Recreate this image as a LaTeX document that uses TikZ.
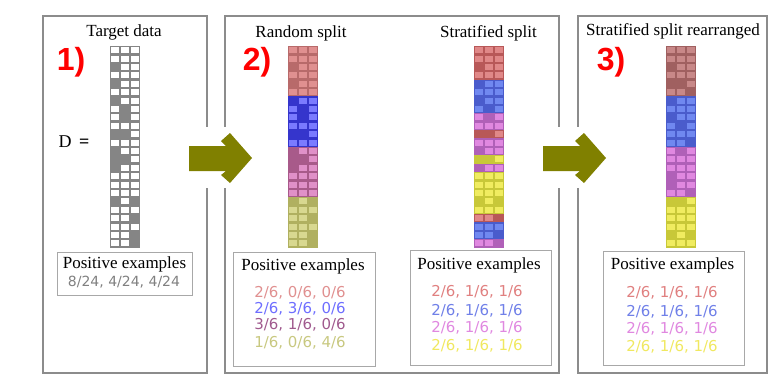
\documentclass[tikz,border=0pt]{standalone}
\usepackage{fontspec}
\setmainfont{Liberation Serif}
\newfontfamily\numfont{DejaVu Sans}
\newfontfamily\tagfont{Liberation Sans}
\usetikzlibrary{positioning}

\definecolor{frame}{HTML}{8C8C8C}
\definecolor{boxline}{HTML}{A8A8A8}
\definecolor{arrowol}{HTML}{808000}
\definecolor{matG}{HTML}{858585}
% random split
\definecolor{rnRd}{HTML}{B86A6A}\definecolor{rnRl}{HTML}{E09090}
\definecolor{rnBd}{HTML}{3535CC}\definecolor{rnBl}{HTML}{7B7BFF}
\definecolor{rnPd}{HTML}{A85A8A}\definecolor{rnPl}{HTML}{E090C8}
\definecolor{rnYd}{HTML}{B0B060}\definecolor{rnYl}{HTML}{D8D890}
% stratified split
\definecolor{stRd}{HTML}{B85858}\definecolor{stRl}{HTML}{E08888}
\definecolor{stBd}{HTML}{4A5CCC}\definecolor{stBl}{HTML}{7088F0}
\definecolor{stPd}{HTML}{B060B8}\definecolor{stPl}{HTML}{E088E0}
\definecolor{stYd}{HTML}{C8C838}\definecolor{stYl}{HTML}{F0EC60}
% rearranged
\definecolor{rrRd}{HTML}{A06060}\definecolor{rrRl}{HTML}{C88888}
% text colours
\definecolor{txR}{HTML}{E09090}\definecolor{txB}{HTML}{6E6EFF}
\definecolor{txP}{HTML}{A05A8E}\definecolor{txY}{HTML}{C8C880}
\definecolor{tsR}{HTML}{E08080}\definecolor{tsB}{HTML}{7080E8}
\definecolor{tsP}{HTML}{E088E0}\definecolor{tsY}{HTML}{F0E860}

% one data matrix: left x, top y, rows dark/light/bits
\newcommand{\drawmat}[3]{%
  \foreach \dk/\lt/\pa/\pb/\pc [count=\r from 0] in {#3} {
    \fill[\dk] (#1,{#2+8.4*\r}) rectangle ++(30,8.4);
    \foreach \v [count=\c from 0] in {\pa,\pb,\pc} {
      \ifnum\v=0 \fill[\lt] ({#1+10*\c+1.3},{#2+8.4*\r+1.2}) rectangle ++(7.4,6.0);\fi
    }
  }%
}

\begin{document}
\begin{tikzpicture}[
  x=1pt, y=-1pt,
  panel/.style={draw=frame, line width=1.8pt, minimum height=357pt, inner sep=0pt},
  posbox/.style={draw=boxline, line width=1pt, inner sep=0pt},
  ttl/.style={font=\fontsize{17}{20}\selectfont, inner sep=0pt},
  tag/.style={font=\tagfont\bfseries\fontsize{32}{34}\selectfont, text=red, inner sep=0pt},
  frac/.style={font=\numfont\fontsize{15}{17}\selectfont, inner sep=0pt}
]
\useasboundingbox (0,0) rectangle (783,381);

\node[panel, minimum width=164pt] (p1) at (125,194.5) {};
\node[panel, minimum width=334pt] (p2) at (392,194.5) {};
\node[panel, minimum width=189pt] (p3) at (672.5,194.5) {};

% arrows between panels
\foreach \s in {0,354} {
  \fill[white] ({193+\s},127) rectangle ({237+\s},188);
  \fill[arrowol] ({189+\s},146) -- ({226+\s},146) -- ({221+\s},141) -- ({230+\s},133)
    -- ({252+\s},158) -- ({230+\s},183) -- ({221+\s},175) -- ({226+\s},171)
    -- ({189+\s},171) -- cycle;
}

% panel 1
\node[ttl] (tD) at (124,32) {Target data};
\node[tag] (n1) at (71,62) {1)};
\node[ttl, font=\fontsize{18}{20}\selectfont] (dEq) at (74,142) {D\, \textbf{=}};
\drawmat{110}{46}{matG/white/0/0/0, matG/white/0/0/0, matG/white/1/0/0, matG/white/0/0/0,
  matG/white/1/0/0, matG/white/0/0/0, matG/white/1/0/0, matG/white/0/1/0,
  matG/white/0/1/0, matG/white/0/0/0, matG/white/1/1/0, matG/white/0/0/0,
  matG/white/1/0/0, matG/white/1/1/0, matG/white/1/0/0, matG/white/0/0/0,
  matG/white/0/0/0, matG/white/0/0/0, matG/white/1/0/1, matG/white/0/0/0,
  matG/white/0/0/1, matG/white/0/0/0, matG/white/0/0/1, matG/white/0/0/1}
\node[posbox, minimum width=135pt, minimum height=43pt] (b1) at (124.5,273.5) {};
\node[ttl] (b1h) at (124.5,264) {Positive examples};
\node[frac, font=\numfont\fontsize{14}{16}\selectfont, text=gray] (b1v) at (124,282) {8/24, 4/24, 4/24};

% panel 2
\node[ttl] (tR) at (301,33) {Random split};
\node[tag] (n2) at (257,62) {2)};
\node[ttl] (tS) at (488.5,33) {Stratified split};
\drawmat{288}{46}{rnRd/rnRl/0/0/0, rnRd/rnRl/0/0/0, rnRd/rnRl/1/0/0, rnRd/rnRl/0/0/0,
  rnRd/rnRl/1/0/0, rnRd/rnRl/0/0/0, rnBd/rnBl/1/0/0, rnBd/rnBl/0/1/0,
  rnBd/rnBl/0/1/0, rnBd/rnBl/0/0/0, rnBd/rnBl/1/1/0, rnBd/rnBl/0/0/0,
  rnPd/rnPl/1/0/0, rnPd/rnPl/1/1/0, rnPd/rnPl/1/0/0, rnPd/rnPl/0/0/0,
  rnPd/rnPl/0/0/0, rnPd/rnPl/0/0/0, rnYd/rnYl/1/0/1, rnYd/rnYl/0/0/0,
  rnYd/rnYl/0/0/1, rnYd/rnYl/0/0/0, rnYd/rnYl/0/0/1, rnYd/rnYl/0/0/1}
\drawmat{474}{46}{stRd/stRl/0/0/0, stRd/stRl/0/0/0, stRd/stRl/1/0/0, stRd/stRl/0/0/0,
  stBd/stBl/1/0/0, stBd/stBl/0/0/0, stBd/stBl/1/0/0, stBd/stBl/0/1/0,
  stPd/stPl/0/1/0, stPd/stPl/0/0/0, stRd/stRl/1/1/0, stPd/stPl/0/0/0,
  stPd/stPl/1/0/0, stYd/stYl/1/1/0, stPd/stPl/1/0/0, stYd/stYl/0/0/0,
  stYd/stYl/0/0/0, stYd/stYl/0/0/0, stYd/stYl/1/0/1, stYd/stYl/0/0/0,
  stRd/stRl/0/0/1, stBd/stBl/0/0/0, stBd/stBl/0/0/1, stPd/stPl/0/0/1}
\node[posbox, minimum width=142pt, minimum height=114pt] (b2) at (304,309) {};
\node[ttl] (b2h) at (303,266) {Positive examples};
\node[frac, text=txR] (b2r) at (300,293) {2/6, 0/6, 0/6};
\node[frac, text=txB] (b2b) at (300,309) {2/6, 3/6, 0/6};
\node[frac, text=txP] (b2p) at (300,325) {3/6, 1/6, 0/6};
\node[frac, text=txY] (b2y) at (300,343) {1/6, 0/6, 4/6};
\node[posbox, minimum width=141pt, minimum height=115pt] (b3) at (480.5,307.5) {};
\node[ttl] (b3h) at (479,265) {Positive examples};
\node[frac, text=tsR] (b3r) at (477,292) {2/6, 1/6, 1/6};
\node[frac, text=tsB] (b3b) at (477,311) {2/6, 1/6, 1/6};
\node[frac, text=tsP] (b3p) at (477,328) {2/6, 1/6, 1/6};
\node[frac, text=tsY] (b3y) at (477,346) {2/6, 1/6, 1/6};

% panel 3
\node[ttl] (tRe) at (673,31) {Stratified split rearranged};
\node[tag] (n3) at (611,62) {3)};
\drawmat{666}{46}{rrRd/rrRl/0/0/0, rrRd/rrRl/0/0/0, rrRd/rrRl/1/0/0, rrRd/rrRl/0/0/0,
  rrRd/rrRl/1/1/0, rrRd/rrRl/0/0/1, stBd/stBl/1/0/0, stBd/stBl/0/0/0,
  stBd/stBl/1/0/0, stBd/stBl/0/1/0, stBd/stBl/0/0/0, stBd/stBl/0/0/1,
  stPd/stPl/0/1/0, stPd/stPl/0/0/0, stPd/stPl/0/0/0, stPd/stPl/1/0/0,
  stPd/stPl/1/0/0, stPd/stPl/0/0/1, stYd/stYl/1/1/0, stYd/stYl/0/0/0,
  stYd/stYl/0/0/0, stYd/stYl/0/0/0, stYd/stYl/1/0/1, stYd/stYl/0/0/0}
\node[posbox, minimum width=141pt, minimum height=114pt] (b4) at (673.5,308) {};
\node[ttl] (b4h) at (672.5,265) {Positive examples};
\node[frac, text=tsR] (b4r) at (672,293) {2/6, 1/6, 1/6};
\node[frac, text=tsB] (b4b) at (672,312) {2/6, 1/6, 1/6};
\node[frac, text=tsP] (b4p) at (672,329) {2/6, 1/6, 1/6};
\node[frac, text=tsY] (b4y) at (672,347) {2/6, 1/6, 1/6};
\end{tikzpicture}
\end{document}
